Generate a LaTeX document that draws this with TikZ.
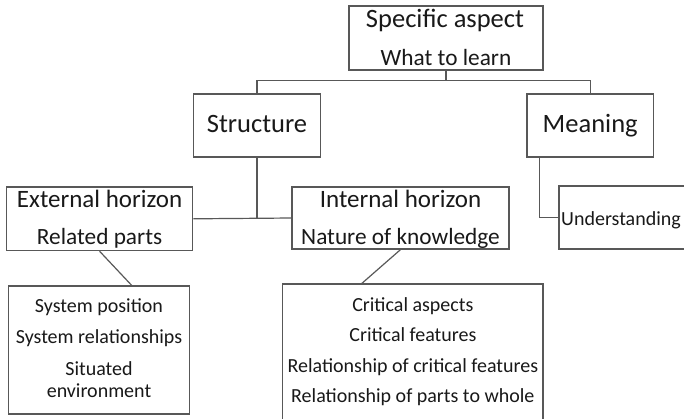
\documentclass[tikz,border=0pt]{standalone}
\usepackage{fontspec}
\setmainfont{Carlito}
\usetikzlibrary{calc}
\definecolor{edge}{RGB}{88,88,88}
\definecolor{ink}{RGB}{25,25,25}
\tikzset{
  box/.style={draw=edge, line width=1.2pt, fill=white, inner sep=0pt, rectangle},
  wire/.style={draw=edge, line width=1.2pt},
  lbl/.style={anchor=base, inner sep=0pt, text=ink},
  big/.style={lbl, font=\fontsize{26.5}{30}\selectfont},
  head/.style={lbl, font=\fontsize{25}{28}\selectfont},
  sub/.style={lbl, font=\fontsize{23.3}{26}\selectfont},
  small/.style={lbl, font=\fontsize{20}{23}\selectfont},
}
\begin{document}
\begin{tikzpicture}[x=1pt, y=-1pt]
\useasboundingbox (0,0) rectangle (684,418);
\clip (0,0) rectangle (684,418);

% boxes (the last column and the bottom box run past the page edge)
\node[box, minimum width=194pt,   minimum height=64pt]   (top)     at (446,38) {};
\node[box, minimum width=127pt,   minimum height=63pt]   (struct)  at (257,125.5) {};
\node[box, minimum width=126.5pt, minimum height=63pt]   (meaning) at (590.2,125.5) {};
\node[box, minimum width=186.3pt, minimum height=63.7pt] (ext)     at (99.6,218.8) {};
\node[box, minimum width=217pt,   minimum height=62pt]   (int)     at (400.5,218) {};
\node[box, minimum width=181pt,   minimum height=63pt]   (und)     at (649.5,217.5) {};
\node[box, minimum width=181pt,   minimum height=128pt]  (sys)     at (99,350) {};
\node[box, minimum width=260.3pt, minimum height=166pt]  (crit)    at (412.85,367) {};

% connectors
\coordinate (split) at ($(top.south)+(0,10)$);
\draw[wire] (top.south) -- (split);
\draw[wire] (split) -| (struct.north);
\draw[wire] (split) -| (meaning.north);
\draw[wire] (struct.south) -- (struct.south |- ext.east);
\draw[wire] (ext.east) -- (int.west);
\draw[wire] ([xshift=13pt]meaning.south west) |- (und.west);
\draw[wire] (ext.south) -- ([xshift=32.7pt]sys.north);
\draw[wire] (int.south) -- ([xshift=-51pt]crit.north);

% labels
\node[big] (t1) at (445,27) {Specific aspect};
\node[sub] (t2) at (446,65) {What to learn};
\node[big] (s1) at (257,132) {Structure};
\node[big] (m1) at (590.2,132) {Meaning};
\node[head] (e1) at (99.6,207) {External horizon};
\node[sub]  (e2) at (99.6,244) {Related parts};
\node[head] (i1) at (400.5,207) {Internal horizon};
\node[sub]  (i2) at (400.5,244) {Nature of knowledge};
\node[small, anchor=base west] (u1) at (561,225) {Understanding};

\node[small] (a1) at (99,312) {System position};
\node[small] (a2) at (99,343) {System relationships};
\node[small] (a3) at (99,375) {Situated};
\node[small] (a4) at (99,397) {environment};

\node[small] (b1) at (412.85,311) {Critical aspects};
\node[small] (b2) at (412.85,341.5) {Critical features};
\node[small] (b3) at (412.85,372) {Relationship of critical features};
\node[small] (b4) at (412.85,402) {Relationship of parts to whole};
\end{tikzpicture}
\end{document}
